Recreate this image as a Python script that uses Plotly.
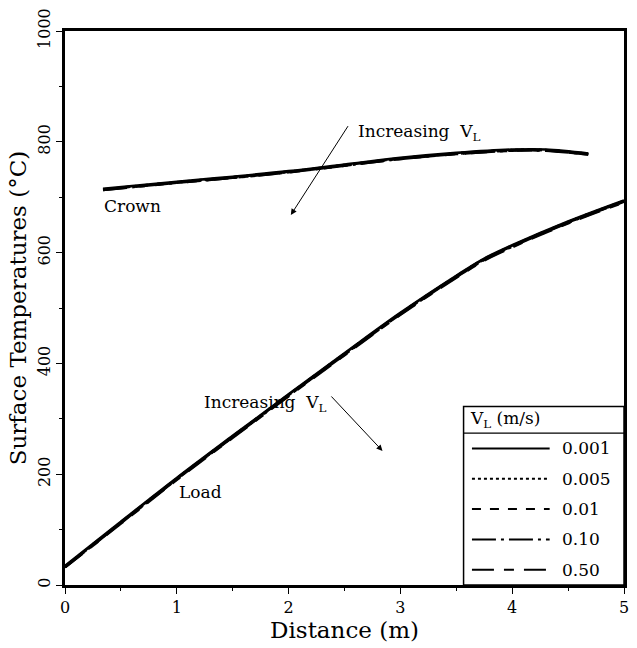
import plotly.graph_objects as go

# ---------------- data ----------------
vl_labels = ["0.001", "0.005", "0.01", "0.10", "0.50"]

crown_x = [0.34, 1.0, 1.5, 2.0, 2.5, 3.0, 3.5, 4.0, 4.3, 4.68]
crown_0001 = [715, 728, 737, 747, 759, 771, 780, 786, 786, 779]
crown_0005 = [714, 727, 736, 746, 758, 770, 779, 785, 785, 778]
crown_001 = [714, 727, 736, 746, 758, 770, 779, 785, 785, 778]
crown_010 = [713, 726, 735, 745, 757, 769, 778, 784, 784, 777]
crown_050 = [713, 726, 735, 745, 757, 769, 778, 784, 784, 777]

load_x = [0, 0.5, 1, 1.5, 2, 2.5, 3, 3.5, 3.75, 4, 4.5, 5]
load_0001 = [34, 114, 193, 269, 344, 418, 491, 558, 589, 613, 656, 694]
load_0005 = [33, 113, 192, 268, 343, 417, 490, 557, 588, 612, 655, 693]
load_001 = [33, 113, 192, 268, 343, 417, 490, 557, 588, 612, 655, 693]
load_010 = [32, 112, 191, 267, 342, 416, 489, 556, 587, 611, 654, 692]
load_050 = [32, 111, 190, 266, 341, 415, 488, 555, 586, 610, 653, 691]

x_ticks = [0, 1, 2, 3, 4, 5]
y_ticks = [0, 200, 400, 600, 800, 1000]

# ---------------- styles ----------------
FONT = "DejaVu Serif"
dashes = ["solid", "dot", "dash", "24px,5px,3px,5px", "22px,10px,10px,10px"]
crown_series = [crown_0001, crown_0005, crown_001, crown_010, crown_050]
load_series = [load_0001, load_0005, load_001, load_010, load_050]

fig = go.Figure()
for lab, d, cy, ly in zip(vl_labels, dashes, crown_series, load_series):
    fig.add_trace(go.Scatter(x=crown_x, y=cy, mode="lines", line_shape="spline",
                             line=dict(color="black", width=2.6, dash=d),
                             name=lab, showlegend=False))
    fig.add_trace(go.Scatter(x=load_x, y=ly, mode="lines", line_shape="spline",
                             line=dict(color="black", width=2.8, dash=d),
                             name=lab, showlegend=False))

fig.update_layout(
    width=637, height=648,
    margin=dict(l=65, r=8, t=28, b=63),
    plot_bgcolor="white", paper_bgcolor="white",
    font=dict(family=FONT, color="black", size=16),
    xaxis=dict(range=[0, 5], tickvals=x_ticks, ticks="outside", ticklen=6,
               tickwidth=1, tickcolor="black", showgrid=False, zeroline=False,
               showline=True, linewidth=3, linecolor="black", mirror=True,
               minor=dict(tickvals=[0.5, 1.5, 2.5, 3.5, 4.5], ticks="outside",
                          ticklen=3, tickcolor="black"),
               title=dict(text="Distance (m)", font=dict(size=23), standoff=2),
               tickfont=dict(size=16)),
    yaxis=dict(range=[0, 1000], tickvals=y_ticks, ticks="outside", ticklen=6,
               tickwidth=1, tickcolor="black", showgrid=False, zeroline=False,
               showline=True, linewidth=3, linecolor="black", mirror=True,
               tickangle=-90,
               minor=dict(tickvals=[100, 300, 500, 700, 900], ticks="outside",
                          ticklen=3, tickcolor="black"),
               title=dict(text="Surface Temperatures (°C)", font=dict(size=23), standoff=2),
               tickfont=dict(size=16)),
)

ann_font = dict(family=FONT, size=17, color="black")
# Curve labels
fig.add_annotation(x=0.6, y=685, text="Crown", showarrow=False, font=ann_font)
fig.add_annotation(x=1.21, y=167, text="Load", showarrow=False, font=ann_font)
# Crown arrow + text
fig.add_annotation(x=2.02, y=668, ax=2.54, ay=831, axref="x", ayref="y",
                   xref="x", yref="y", text="", showarrow=True,
                   arrowhead=2, arrowsize=1.2, arrowwidth=1, arrowcolor="black")
fig.add_annotation(x=2.6, y=817, text="Increasing  V<sub>L</sub>", showarrow=False,
                   xanchor="left", font=ann_font)
# Load arrow + text
fig.add_annotation(x=2.84, y=242, ax=2.37, ay=343, axref="x", ayref="y",
                   xref="x", yref="y", text="", showarrow=True,
                   arrowhead=2, arrowsize=1.2, arrowwidth=1, arrowcolor="black")
fig.add_annotation(x=2.36, y=328, text="Increasing  V<sub>L</sub>", showarrow=False,
                   xanchor="right", font=ann_font)

# ---------------- legend box (drawn in paper coordinates) ----------------
box_x0, box_x1 = 0.713, 1.0
box_y0, box_y1 = 0.0, 0.322
hdr_y = 0.274
fig.add_shape(type="rect", xref="paper", yref="paper", x0=box_x0, x1=box_x1,
              y0=box_y0, y1=box_y1, line=dict(color="black", width=1.5),
              fillcolor="white", layer="above")
fig.add_shape(type="line", xref="paper", yref="paper", x0=box_x0, x1=box_x1,
              y0=hdr_y, y1=hdr_y, line=dict(color="black", width=1.2), layer="above")
fig.add_annotation(xref="paper", yref="paper", x=box_x0 + 0.008, y=(box_y1 + hdr_y) / 2,
                   text="V<sub>L</sub> (m/s)", showarrow=False, xanchor="left",
                   yanchor="middle", font=dict(family=FONT, size=17, color="black"))
row_h = hdr_y / 5
for i, (lab, d) in enumerate(zip(vl_labels, dashes)):
    yy = hdr_y - row_h * (i + 0.5)
    fig.add_shape(type="line", xref="paper", yref="paper", x0=0.728, x1=0.867,
                  y0=yy, y1=yy, line=dict(color="black", width=2, dash=d), layer="above")
    fig.add_annotation(xref="paper", yref="paper", x=0.885, y=yy, text=lab,
                       showarrow=False, xanchor="left", yanchor="middle",
                       font=dict(family=FONT, size=17, color="black"))

fig.write_html("out.html")
